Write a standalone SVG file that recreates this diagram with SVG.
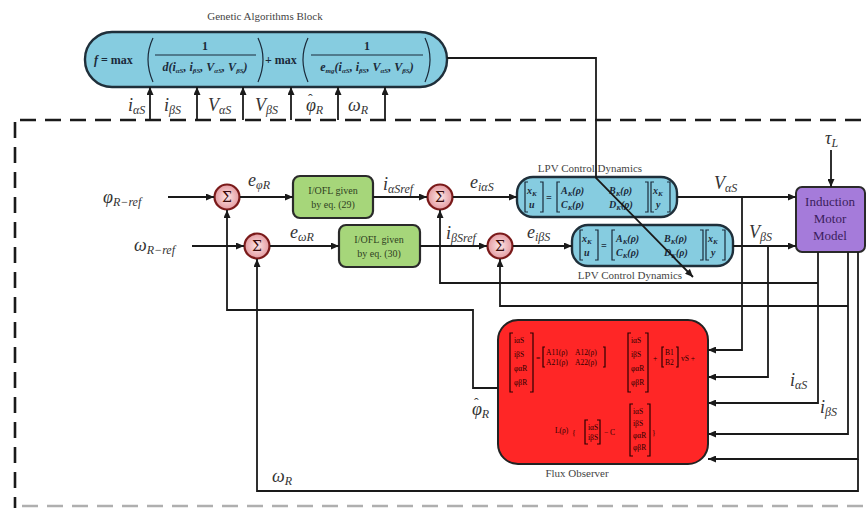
<svg xmlns="http://www.w3.org/2000/svg" width="867" height="508" viewBox="0 0 867 508">
<style>
.ln{fill:none;stroke:#1a1a1a;stroke-width:1.8}
.ar{marker-end:url(#ah)}
.dash{fill:none;stroke:#1a1a1a;stroke-width:2.6;stroke-dasharray:16 9}
.lbl{font-family:"Liberation Serif",serif;font-style:italic;fill:#333;font-size:18px}
.sub{font-size:12px}
.hat{font-size:14px;font-style:normal}
.cap{font-family:"Liberation Serif",serif;fill:#444;font-size:11px;text-anchor:middle}
.sum circle{fill:url(#sg);stroke:#7A1A1A;stroke-width:2.2}
.sum text{font-family:"DejaVu Serif",serif;font-size:14px;fill:#3a0a0a;text-anchor:middle}
.green{fill:#A6D67A;stroke:#2A2A2A;stroke-width:2.2}
.gtxt{font-family:"Liberation Serif",serif;font-size:10px;fill:#2f3f1f;text-anchor:middle}
.blue{fill:#86CCE0;stroke:#1f2f3a;stroke-width:2.4}
.mat{font-family:"Liberation Serif",serif;font-weight:bold;font-style:italic;font-size:10px;fill:#1a2a3a}
.ms{font-size:7px}
.br{fill:none;stroke:#1a2a3a;stroke-width:1.2}
.ga{font-family:"Liberation Serif",serif;font-weight:bold;font-size:12px;fill:#1a2a3a}
.gi{font-style:italic}
.fo{font-family:"Liberation Serif",serif;font-size:7.5px;fill:#2a0000}
.fb{fill:none;stroke:#2a0000;stroke-width:1.2}
</style>
<defs>
<marker id="ah" markerUnits="userSpaceOnUse" markerWidth="8" markerHeight="7" refX="8" refY="3.5" orient="auto"><path d="M0,0 L8,3.5 L0,7 z" fill="#1a1a1a"/></marker>
<radialGradient id="sg" cx="0.5" cy="0.5" r="0.5"><stop offset="0" stop-color="#FCE6E7"/><stop offset="1" stop-color="#E49AA0"/></radialGradient>
<g id="lpvEq">
<path class="br" d="M11,5 H8 V35 H11 M23,5 H26 V35 H23"/>
<text class="mat" x="10" y="17">x<tspan class="ms" dy="2">K</tspan></text>
<text class="mat" x="12" y="31">u</text>
<text class="mat" x="29" y="24">=</text>
<path class="br" d="M43,5 H40 V35 H43 M128,5 H131 V35 H128"/>
<text class="mat" x="44" y="17">A<tspan class="ms" dy="2">K</tspan><tspan dy="-2">(ρ)</tspan></text>
<text class="mat" x="92" y="17">B<tspan class="ms" dy="2">K</tspan><tspan dy="-2">(ρ)</tspan></text>
<text class="mat" x="44" y="31">C<tspan class="ms" dy="2">K</tspan><tspan dy="-2">(ρ)</tspan></text>
<text class="mat" x="92" y="31">D<tspan class="ms" dy="2">K</tspan><tspan dy="-2">(ρ)</tspan></text>
<path class="br" d="M137,5 H134 V35 H137 M150,5 H153 V35 H150"/>
<text class="mat" x="136" y="17">x<tspan class="ms" dy="2">K</tspan></text>
<text class="mat" x="139" y="31">y</text>
</g>
</defs>
<rect width="867" height="508" fill="#ffffff"/>

<!-- dashed boundary -->
<g id="boundary">
<path class="dash" d="M20,120 H867"/>
<path class="dash" d="M15,122 V508"/>
<path class="dash" d="M22,506 H867" stroke-opacity="0.35"/>
</g>

<!-- GA block -->
<g id="ga">
<text class="cap" x="265" y="20">Genetic Algorithms Block</text>
<rect class="blue" x="85" y="32" width="362" height="55" rx="27"/>
<text class="ga" x="94" y="64"><tspan class="gi">f</tspan> = max</text>
<path class="br" stroke-width="1.4" d="M153,38 Q143,59 153,82 M258,38 Q268,59 258,82"/>
<text class="ga" x="205" y="50" text-anchor="middle">1</text>
<path stroke="#1a2a3a" stroke-width="1" d="M155,55 H256"/>
<text class="ga gi" x="205" y="71" text-anchor="middle" font-size="11">d(i<tspan class="ms" dy="2">αS</tspan><tspan dy="-2">, i</tspan><tspan class="ms" dy="2">βS</tspan><tspan dy="-2">, V</tspan><tspan class="ms" dy="2">αS</tspan><tspan dy="-2">, V</tspan><tspan class="ms" dy="2">βS</tspan><tspan dy="-2">)</tspan></text>
<text class="ga" x="265" y="64">+ max</text>
<path class="br" stroke-width="1.4" d="M308,38 Q298,59 308,82 M425,38 Q435,59 425,82"/>
<text class="ga" x="367" y="50" text-anchor="middle">1</text>
<path stroke="#1a2a3a" stroke-width="1" d="M311,55 H423"/>
<text class="ga gi" x="367" y="71" text-anchor="middle" font-size="11">e<tspan class="ms" dy="2">mg</tspan><tspan dy="-2">(i</tspan><tspan class="ms" dy="2">αS</tspan><tspan dy="-2">, i</tspan><tspan class="ms" dy="2">βS</tspan><tspan dy="-2">, V</tspan><tspan class="ms" dy="2">αS</tspan><tspan dy="-2">, V</tspan><tspan class="ms" dy="2">βS</tspan><tspan dy="-2">)</tspan></text>
</g>

<!-- sums -->
<g id="sum1" class="sum"><circle cx="227" cy="197" r="12.5"/><text x="227" y="202">Σ</text></g>
<g id="sum2" class="sum"><circle cx="257" cy="246" r="12.5"/><text x="257" y="251">Σ</text></g>
<g id="sum3" class="sum"><circle cx="440" cy="197" r="12.5"/><text x="440" y="202">Σ</text></g>
<g id="sum4" class="sum"><circle cx="500" cy="246" r="12.5"/><text x="500" y="251">Σ</text></g>

<!-- I/OFL blocks -->
<g id="iofl1"><rect class="green" x="293" y="176" width="80" height="42" rx="7"/><text class="gtxt" x="333" y="194">I/OFL given</text><text class="gtxt" x="333" y="208">by eq. (29)</text></g>
<g id="iofl2"><rect class="green" x="339" y="225" width="81" height="42" rx="7"/><text class="gtxt" x="379" y="243">I/OFL given</text><text class="gtxt" x="379" y="257">by eq. (30)</text></g>

<!-- LPV blocks -->
<g id="lpv1"><text class="cap" x="590" y="172">LPV Control Dynamics</text><rect class="blue" x="517" y="177" width="160" height="40" rx="16"/><use href="#lpvEq" x="517" y="177"/></g>
<g id="lpv2"><rect class="blue" x="572" y="225" width="161" height="41" rx="16"/><use href="#lpvEq" x="572" y="225"/><text class="cap" x="630" y="279">LPV Control Dynamics</text></g>

<!-- Motor -->
<g id="motor"><rect x="796" y="187" width="69" height="65" rx="6" fill="#A57BDA" stroke="#2a2a2a" stroke-width="2"/>
<text font-family="Liberation Serif,serif" font-size="13" fill="#3b1d5c" text-anchor="middle"><tspan x="830" y="206">Induction</tspan><tspan x="830" y="223">Motor</tspan><tspan x="830" y="240">Model</tspan></text></g>

<!-- Flux observer -->
<g id="flux">
<rect x="498" y="320" width="210" height="144" rx="20" fill="#FF2626" stroke="#222" stroke-width="2"/>
<path class="fb" d="M513,333 H510 V392 H513 M530,333 H533 V392 H530"/>
<text class="fo"><tspan x="514" y="343">iαS</tspan><tspan x="514" y="357">iβS</tspan><tspan x="514" y="371">φαR</tspan><tspan x="514" y="385">φβR</tspan></text>
<text class="fo" x="536" y="361">=</text>
<path class="fb" d="M545,347 H543 V367 H545 M603,347 H605 V367 H603"/>
<text class="fo"><tspan x="546" y="355">A11(ρ)</tspan><tspan x="575" y="355">A12(ρ)</tspan><tspan x="546" y="365">A21(ρ)</tspan><tspan x="575" y="365">A22(ρ)</tspan></text>
<path class="fb" d="M631,333 H628 V392 H631 M645,333 H648 V392 H645"/>
<text class="fo"><tspan x="631" y="343">iαS</tspan><tspan x="631" y="357">iβS</tspan><tspan x="631" y="371">φαR</tspan><tspan x="631" y="385">φβR</tspan></text>
<text class="fo" x="653" y="361">+</text>
<path class="fb" d="M664,347 H662 V367 H664 M676,347 H678 V367 H676"/>
<text class="fo"><tspan x="665" y="355">B1</tspan><tspan x="665" y="365">B2</tspan></text>
<text class="fo" x="681" y="361">vS +</text>
<text class="fo" x="555" y="433">L(ρ)</text>
<text class="fo" x="572" y="436" font-size="24">{</text>
<path class="fb" d="M588,420 H585 V444 H588 M597,420 H600 V444 H597"/>
<text class="fo"><tspan x="588" y="430">iαS</tspan><tspan x="588" y="440">iβS</tspan></text>
<text class="fo" x="604" y="435">− C</text>
<path class="fb" d="M633,404 H630 V456 H633 M647,404 H650 V456 H647"/>
<text class="fo"><tspan x="633" y="414">iαS</tspan><tspan x="633" y="426">iβS</tspan><tspan x="633" y="438">φαR</tspan><tspan x="633" y="450">φβR</tspan></text>
<text class="fo" x="652" y="436" font-size="24">}</text>
<text class="cap" x="577" y="477">Flux Observer</text>
</g>

<!-- connectors -->
<g id="connectors">
<path class="ln ar" d="M150,120 V87"/>
<path class="ln ar" d="M197,120 V87"/>
<path class="ln ar" d="M243,120 V87"/>
<path class="ln ar" d="M291,120 V87"/>
<path class="ln ar" d="M338,120 V87"/>
<path class="ln ar" d="M385,120 V87"/>
<path class="ln ar" d="M447,58 H596 V178 L693,277"/>
<path class="ln ar" d="M168,197 H214"/>
<path class="ln ar" d="M192,246 H244"/>
<path class="ln ar" d="M240,197 H293"/>
<path class="ln ar" d="M270,246 H339"/>
<path class="ln ar" d="M373,197 H427"/>
<path class="ln ar" d="M420,246 H487"/>
<path class="ln ar" d="M453,197 H517"/>
<path class="ln ar" d="M513,246 H572"/>
<path class="ln ar" d="M677,197 H796"/>
<path class="ln ar" d="M733,246 H796"/>
<path class="ln ar" d="M831,150 V187"/>
<path class="ln ar" d="M742,197 V350 H708"/>
<path class="ln ar" d="M768,246 V377 H708"/>
<path class="ln ar" d="M818,252 V403 H708"/>
<path class="ln ar" d="M848,252 V434 H708"/>
<path class="ln ar" d="M858,252 V459 H708"/>
<path class="ln ar" d="M858,459 V491 H257 V259"/>
<path class="ln ar" d="M818,283 H440 V210"/>
<path class="ln ar" d="M848,306 H500 V259"/>
<path class="ln ar" d="M498,388 H473 V310 H227 V210"/>
</g>

<!-- labels -->
<g id="labels">
<text class="lbl" x="128" y="111">i<tspan class="sub" dy="3">αS</tspan></text>
<text class="lbl" x="164" y="111">i<tspan class="sub" dy="3">βS</tspan></text>
<text class="lbl" x="208" y="111">V<tspan class="sub" dy="3">αS</tspan></text>
<text class="lbl" x="255" y="111">V<tspan class="sub" dy="3">βS</tspan></text>
<text class="lbl" x="306" y="111">φ<tspan class="hat" dx="-8" dy="-7">ˆ</tspan><tspan class="sub" dx="3" dy="10">R</tspan></text>
<text class="lbl" x="348" y="111">ω<tspan class="sub" dy="3">R</tspan></text>
<text class="lbl" x="103" y="203" font-size="20">φ<tspan class="sub" font-size="14" dy="3">R−ref</tspan></text>
<text class="lbl" x="134" y="251">ω<tspan class="sub" font-size="14" dy="3">R−ref</tspan></text>
<text class="lbl" x="248" y="186">e<tspan class="sub" dy="3">φR</tspan></text>
<text class="lbl" x="290" y="238">e<tspan class="sub" dy="3">ωR</tspan></text>
<text class="lbl" x="383" y="190">i<tspan class="sub" font-size="13" dy="3">αSref</tspan></text>
<text class="lbl" x="446" y="239">i<tspan class="sub" font-size="13" dy="3">βSref</tspan></text>
<text class="lbl" x="470" y="188">e<tspan class="sub" dy="3">iαS</tspan></text>
<text class="lbl" x="527" y="238">e<tspan class="sub" dy="3">iβS</tspan></text>
<text class="lbl" x="714" y="189">V<tspan class="sub" dy="3">αS</tspan></text>
<text class="lbl" x="749" y="238">V<tspan class="sub" dy="3">βS</tspan></text>
<text class="lbl" x="825" y="144" font-size="14">τ<tspan class="sub" font-size="10" dy="3">L</tspan></text>
<text class="lbl" x="790" y="386">i<tspan class="sub" dy="3">αS</tspan></text>
<text class="lbl" x="820" y="413">i<tspan class="sub" dy="3">βS</tspan></text>
<text class="lbl" x="472" y="415">φ<tspan class="hat" dx="-8" dy="-7">ˆ</tspan><tspan class="sub" dx="3" dy="10">R</tspan></text>
<text class="lbl" x="272" y="482">ω<tspan class="sub" dy="3">R</tspan></text>
</g>
</svg>
